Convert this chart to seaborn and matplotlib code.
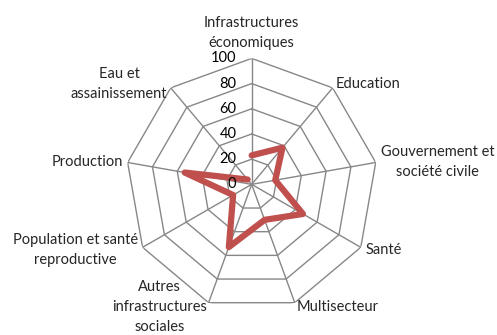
import numpy as np
import pandas as pd
import matplotlib
matplotlib.use("Agg")
import matplotlib.pyplot as plt
import seaborn as sns

# Secteurs (clockwise from top) and their values
categories = [
    "Infrastructures\néconomiques",
    "Education",
    "Gouvernement et\nsociété civile",
    "Santé",
    "Multisecteur",
    "Autres\ninfrastructures\nsociales",
    "Population et santé\nreproductive",
    "Production",
    "Eau et\nassainissement",
]
values = [23, 38, 19, 47, 30, 53, 17, 54, 5]
rticks = [0, 20, 40, 60, 80, 100]

sns.set_style("white")
plt.rcParams["font.family"] = ["Lato", "DejaVu Sans"]

n = len(categories)
angles = np.linspace(0, 2 * np.pi, n, endpoint=False)

df = pd.DataFrame({
    "angle": np.append(angles, angles[0]),
    "value": values + values[:1],
})

fig = plt.figure(figsize=(4.97, 3.35), dpi=100)
ax = fig.add_axes([0.2529, 0.0737, 0.507, 0.752], projection="polar")
ax.set_theta_zero_location("N")
ax.set_theta_direction(-1)
ax.set_ylim(0, 100)
ax.grid(False)
ax.spines["polar"].set_visible(False)
ax.set_xticks([])
ax.set_yticks([])

grid_col = "#878787"
closed = np.append(angles, angles[0])
for r in rticks[1:]:
    ax.plot(closed, [r] * (n + 1), color=grid_col, lw=1, zorder=1)
for a in angles:
    ax.plot([a, a], [0, rticks[-1]], color=grid_col, lw=1, zorder=1)

sns.lineplot(data=df, x="angle", y="value", sort=False, ax=ax,
             color="#C0504D", lw=4.5, zorder=3)
ax.set_xlabel("")
ax.set_ylabel("")

for r in rticks:
    ax.annotate(str(r), xy=(0, r), xytext=(-11, 0), textcoords="offset points",
                ha="right", va="center", fontsize=10.5, color="#000000")

for a, lab in zip(angles, categories):
    s = np.sin(a)
    if abs(s) < 0.1:
        ha, va, rr = "center", "bottom", 107
    elif s > 0:
        ha, va, rr = "left", "center", 104
    else:
        ha, va, rr = "right", "center", 104
    ax.text(a, rr, lab, ha=ha, va=va, multialignment="center",
            fontsize=10.5, linespacing=1.55)

fig.savefig("out.png", dpi=100)
